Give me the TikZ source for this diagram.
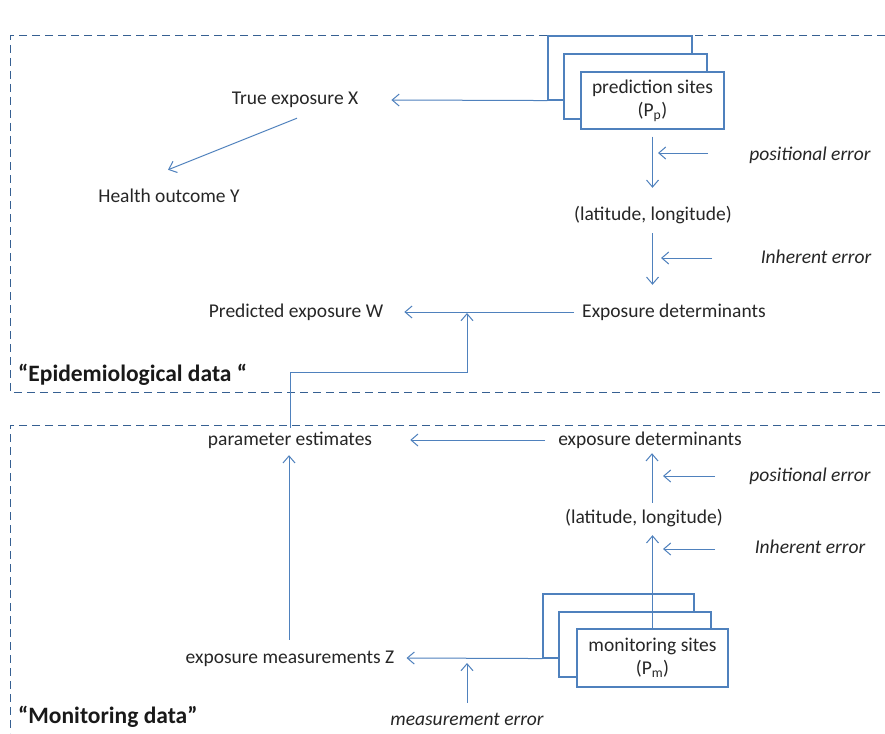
\documentclass[tikz,border=0pt]{standalone}
\usepackage{fontspec}
\setmainfont{Carlito}
\usetikzlibrary{arrows.meta,calc}
\definecolor{lineblue}{RGB}{79,129,189}
\definecolor{dashblue}{RGB}{54,96,146}
\definecolor{txt}{RGB}{38,38,38}
\begin{document}
\begin{tikzpicture}[x=1pt,y=-1pt,
  lbl/.style={inner sep=0pt, text height=14pt, text depth=4pt, font=\fontsize{19.5}{23}\selectfont, text=txt},
  errlbl/.style={lbl, font=\fontsize{19.5}{23}\selectfont\itshape},
  titlelbl/.style={lbl, anchor=west, font=\fontsize{23.5}{27}\selectfont\bfseries, text=black!90},
  sitebox/.style={draw=lineblue, line width=1.1pt, fill=white, inner sep=0pt},
  frontbox/.style={sitebox, align=center, font=\fontsize{19.5}{23}\selectfont, text=txt},
  conn/.style={draw=lineblue, line width=1pt, -{Straight Barb[length=7pt,width=12pt]}},
  frame/.style={draw=dashblue, line width=1pt, dash pattern=on 8pt off 5pt},
]
\useasboundingbox (0,0) rectangle (885,733);
\fill[white] (0,0) rectangle (885,733);

% frames
\draw[frame] (885,36) -- (10,36) -- (10,392) -- (885,392);
\draw[frame] (885,425) -- (10,425) -- (10,733);

% top section
\node[sitebox, minimum width=144pt, minimum height=64pt] (back1) at (620,68) {};
\node[sitebox, minimum width=143pt, minimum height=65pt] (mid1) at (635.5,86.5) {};
\node[frontbox, minimum width=143pt, minimum height=57pt] (front1) at (652.5,100.5) {prediction sites\\(P\textsubscript{p})};

\node[lbl] (truex) at (295,100) {True exposure X};
\node[lbl] (health) at (169,197) {Health outcome Y};
\node[lbl] (lat1) at (653,215) {(latitude, longitude)};
\node[lbl] (expdet1) at (674,312) {Exposure determinants};
\node[lbl] (predw) at (296,312) {Predicted exposure W};
\node[errlbl] (pos1) at (810,155) {positional error};
\node[errlbl] (inh1) at (816,258) {Inherent error};
\node[titlelbl] (epi) at (18,376) {“Epidemiological data “};

% bottom section
\node[lbl] (param) at (290,440) {parameter estimates};
\node[lbl] (expdet2) at (650,440) {exposure determinants};
\node[errlbl] (pos2) at (810,476) {positional error};
\node[lbl] (lat2) at (644,518) {(latitude, longitude)};
\node[errlbl] (inh2) at (810,548) {Inherent error};
\node[lbl] (expz) at (290,658) {exposure measurements Z};
\node[errlbl] (meas) at (467,720) {measurement error};
\node[titlelbl] (mon) at (18,718) {“Monitoring data”};

\node[sitebox, minimum width=151pt, minimum height=64pt] (back2) at (618.5,626) {};
\node[sitebox, minimum width=152pt, minimum height=65pt] (mid2) at (635,644.5) {};
\node[frontbox, minimum width=151pt, minimum height=58pt] (front2) at (652.5,658) {monitoring sites\\(P\textsubscript{m})};

% free ends of error arrows
\coordinate (pe1s) at (708,153); \coordinate (pe1e) at (658,153);
\coordinate (ie1s) at (712,258); \coordinate (ie1e) at (661,258);
\coordinate (pe2s) at (715,476); \coordinate (pe2e) at (663,476);
\coordinate (ie2s) at (715,549); \coordinate (ie2e) at (663,549);
\coordinate (wjoin) at (467,313);
\coordinate (zjoin) at (467,663);

% top connectors
\draw[conn] (back1.south west) -- ([xshift=33pt]truex.east);
\draw[conn] ($(truex.south)+(2,9)$) -- ($(health.north)+(-1,-18)$);
\draw[conn] ($(front1.south)+(0,7)$) -- ($(lat1.north)+(-0.5,-18)$);
\draw[conn] (pe1s) -- (pe1e);
\draw[conn] ($(lat1.south)+(-0.5,9)$) -- ($(lat1.south |- expdet1.north)+(-0.5,-18)$);
\draw[conn] (ie1s) -- (ie1e);
\draw[conn] ($(expdet1.west)+(-8,0)$) -- ([xshift=21pt]predw.east);
\draw[conn] ($(param.north)+(0,-3)$) -- ++(0,-55) -| (wjoin);

% bottom connectors
\draw[conn] ([xshift=-13pt]expdet2.west) -- ([xshift=38pt]param.east);
\draw[conn] ($(lat2.north)+(8,-6)$) -- ($(expdet2.south)+(2,4)$);
\draw[conn] (pe2s) -- (pe2e);
\draw[conn] (front2.north) -- ($(lat2.south)+(8.5,8)$);
\draw[conn] (ie2s) -- (ie2e);
\draw[conn] (back2.south west) -- ([xshift=12pt]expz.east);
\draw[conn] ($(meas.north)+(0,-8)$) -- (zjoin);
\draw[conn] ($(expz.north)+(-1,-9)$) -- ($(param.south)+(-1,6)$);
\end{tikzpicture}
\end{document}
